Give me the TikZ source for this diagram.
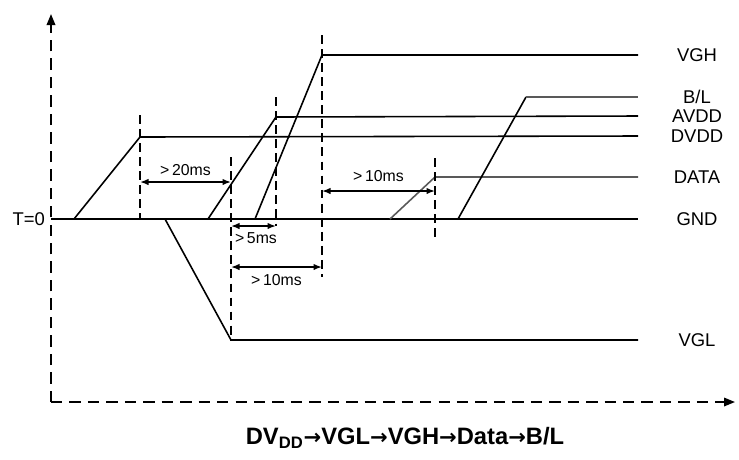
\documentclass[tikz,border=0pt]{standalone}
\usepackage{fontspec}
\setmainfont{Liberation Sans}
\newfontfamily\symfont{DejaVu Sans}
\usetikzlibrary{arrows.meta}
\tikzset{
  axisline/.style={line width=1pt, dash pattern=on 6.5pt off 4pt},
  guideline/.style={line width=0.9pt, dash pattern=on 5pt off 3pt},
  sigline/.style={line width=0.9pt},
  sigdim/.style={sigline, draw=black!65},
  dimarrow/.style={line width=0.9pt, {Latex[length=1.7mm,width=1.3mm]}-{Latex[length=1.7mm,width=1.3mm]}},
  siglabel/.style={font=\fontsize{10.5}{12}\selectfont, inner sep=1pt},
  dimlabel/.style={font=\fontsize{9}{10}\selectfont, inner sep=1pt},
}
\newcommand{\nextstep}{{\symfont\fontsize{12}{12}\selectfont →}}

\begin{document}
\begin{tikzpicture}[x=0.2mm, y=-0.2mm]
  \useasboundingbox (0,0) rectangle (739,459);
  % axes
  \coordinate (origin) at (51,402);
  \coordinate (ytop) at (51,14);
  \coordinate (xend) at (735,402);
  \coordinate (xstop) at (638,0);
  \draw[axisline, -{Triangle[length=2.2mm,width=1.7mm]}] (origin) -- (ytop);
  \draw[axisline, -{Triangle[length=2.2mm,width=1.7mm]}] (origin) -- (xend);
  % labels at the right
  \node[siglabel] (vgh) at (697,55) {VGH};
  \node[siglabel] (bl) at (697,97) {B/L};
  \node[siglabel] (avdd) at (697,116) {AVDD};
  \node[siglabel] (dvdd) at (697,136) {DVDD};
  \node[siglabel] (data) at (697,177) {DATA};
  \node[siglabel] (gnd) at (697,219) {GND};
  \node[siglabel] (vgl) at (697,340) {VGL};
  \node[siglabel, anchor=east] (tzero) at (47,219) {T=0};
  % ground line
  \draw[sigline] (51,219) -- (gnd.west -| xstop);
  % supply rails
  \draw[sigline] (74,219) -- (140,137) -- (dvdd.west -| xstop);
  \draw[sigline] (165,219) -- (231,340) -- (vgl.west -| xstop);
  \draw[sigline] (208,219) -- (276,117) -- (avdd.west -| xstop);
  \draw[sigline] (255,219) -- (322,55) -- (vgh.west -| xstop);
  \draw[sigdim] (390,219) -- (435,177) -- (data.west -| xstop);
  \draw[sigline] (458,219) -- (526,97);
  \draw[sigdim] (526,97) -- (bl.west -| xstop);
  % guides
  \draw[guideline] (140,115) -- (140,219);
  \draw[guideline] (231,157) -- (231,340);
  \draw[guideline] (276,97) -- (276,226);
  \draw[guideline] (322,35) -- (322,277);
  \draw[guideline] (435,158) -- (435,240);
  % delays
  \draw[dimarrow] (140,182) -- node[dimlabel, above=2pt] (d20) {>\,20ms} (231,182);
  \draw[dimarrow] (231,226) -- (276,226);
  \node[dimlabel, anchor=north] (d5) at (256,230) {>\,5ms};
  \draw[dimarrow] (231,267) -- node[dimlabel, below=3pt] (d10a) {>\,10ms} (322,267);
  \draw[dimarrow] (322,191) -- node[dimlabel, above=4pt] (d10b) {>\,10ms} (435,191);
  % power-on order
  \node[font=\bfseries\fontsize{13.5}{16}\selectfont] (order) at (405,438)
    {DV\textsubscript{DD}\nextstep VGL\nextstep VGH\nextstep Data\nextstep B/L};
\end{tikzpicture}
\end{document}
